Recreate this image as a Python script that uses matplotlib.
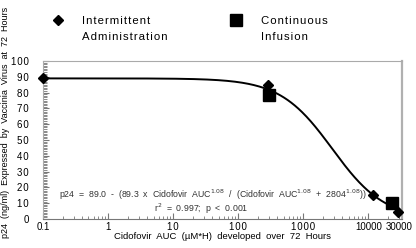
import numpy as np
import matplotlib.pyplot as plt
from matplotlib.ticker import FixedLocator, NullFormatter, MultipleLocator

plt.rcParams['font.family'] = ['Liberation Sans', 'DejaVu Sans']

# measured points
inter_auc = [0.1, 290, 12000, 29000]
inter_p24 = [89.0, 84.5, 15.5, 4.5]
cont_auc = [300, 23000]
cont_p24 = [78.5, 10.0]

# fitted model shown on the chart
fit_top = 89.0
fit_span = 89.3
fit_ec50 = 2804.0
fit_hill = 1.08

HS = '\u200a'  # hair space, mimics the letter spacing of the original


def spaced(s, sep=HS):
    return sep.join(s)


xticks = [0.1, 1, 10, 100, 1000, 10000, 30000]
xticklabels = ['0.1', '1', spaced('10'), spaced('100'), spaced('1000'), '10000', '30000']
yticks = list(range(0, 101, 10))
yticklabels = [spaced(str(v)) for v in yticks]

fig = plt.figure(figsize=(4.16, 2.48), dpi=100)
ax = fig.add_axes([43 / 416, 1 - 219 / 248, 359 / 416, 158 / 248])

xs = np.logspace(-1, np.log10(30000), 400)
curve = fit_top - fit_span * xs ** fit_hill / (xs ** fit_hill + fit_ec50 ** fit_hill)
ax.plot(xs, curve, color='black', lw=1.4, zorder=2)

ax.plot(inter_auc, inter_p24, 'D', color='black', ms=5.5, clip_on=False, zorder=3)
ax.plot(cont_auc, cont_p24, 's', color='black', ms=8, clip_on=False, zorder=3)

ax.set_xscale('log')
ax.set_xlim(0.1, 33000)
ax.set_ylim(0, 100)
ax.xaxis.set_major_locator(FixedLocator(xticks))
ax.set_xticklabels(xticklabels)
minors = [m * 10.0 ** e for e in range(-1, 5) for m in range(2, 10)]
ax.xaxis.set_minor_locator(FixedLocator([v for v in minors if v < 33000]))
ax.xaxis.set_minor_formatter(NullFormatter())
ax.set_yticks(yticks)
ax.set_yticklabels(yticklabels)
ax.yaxis.set_minor_locator(MultipleLocator(1))

ax.tick_params(which='both', direction='in', color='#777777', labelsize=7)
ax.tick_params(axis='x', pad=2.5)
ax.tick_params(axis='y', pad=10)
ax.tick_params(which='major', length=4, width=0.8)
ax.tick_params(which='minor', length=2.5, width=0.6)
ax.tick_params(axis='y', which='minor', length=3)
for side in ['left', 'top', 'bottom']:
    ax.spines[side].set_color('#aaaaaa')
    ax.spines[side].set_linewidth(0.8)
ax.spines['bottom'].set_color('#777777')
ax.spines['right'].set_color('#b0b0b0')
ax.spines['right'].set_linewidth(1.6)

ax.set_xlabel('Cidofovir  AUC  (\u00b5M*H)  developed  over  72  Hours', fontsize=6.8, labelpad=0)
fig.text(6 / 416, 1 - 122 / 248,
         'p24  (ng/ml)  Expressed  by  Vaccinia  Virus  at  72  Hours',
         rotation=90, fontsize=6.5, ha='center', va='center')

ax.text(0.045, 0.15,
        r'p24  =  89.0  -  (89.3  x  Cidofovir  AUC$^{1.08}$  /  (Cidofovir  AUC$^{1.08}$  +  2804$^{1.08}$))',
        transform=ax.transAxes, fontsize=6.3, color='#333333', va='center')
ax.text(0.31, 0.065, r'r$^{2}$  =  0.997;  p  <  0.001',
        transform=ax.transAxes, fontsize=6.3, color='#333333', va='center')

# legend drawn above the axes
fig.lines.append(plt.Line2D([58 / 416], [1 - 20 / 248], marker='D', color='black', ms=5.5,
                            transform=fig.transFigure))
fig.lines.append(plt.Line2D([236 / 416], [1 - 20 / 248], marker='s', color='black', ms=8,
                            transform=fig.transFigure))
legend_rows = [(82, ['Intermittent', 'Administration']), (261, ['Continuous', 'Infusion'])]
for x0, words in legend_rows:
    for k, w in enumerate(words):
        fig.text(x0 / 416, 1 - (21 + 16 * k) / 248, spaced(w), fontsize=8.2, va='center')

fig.savefig('out.png', dpi=100)
